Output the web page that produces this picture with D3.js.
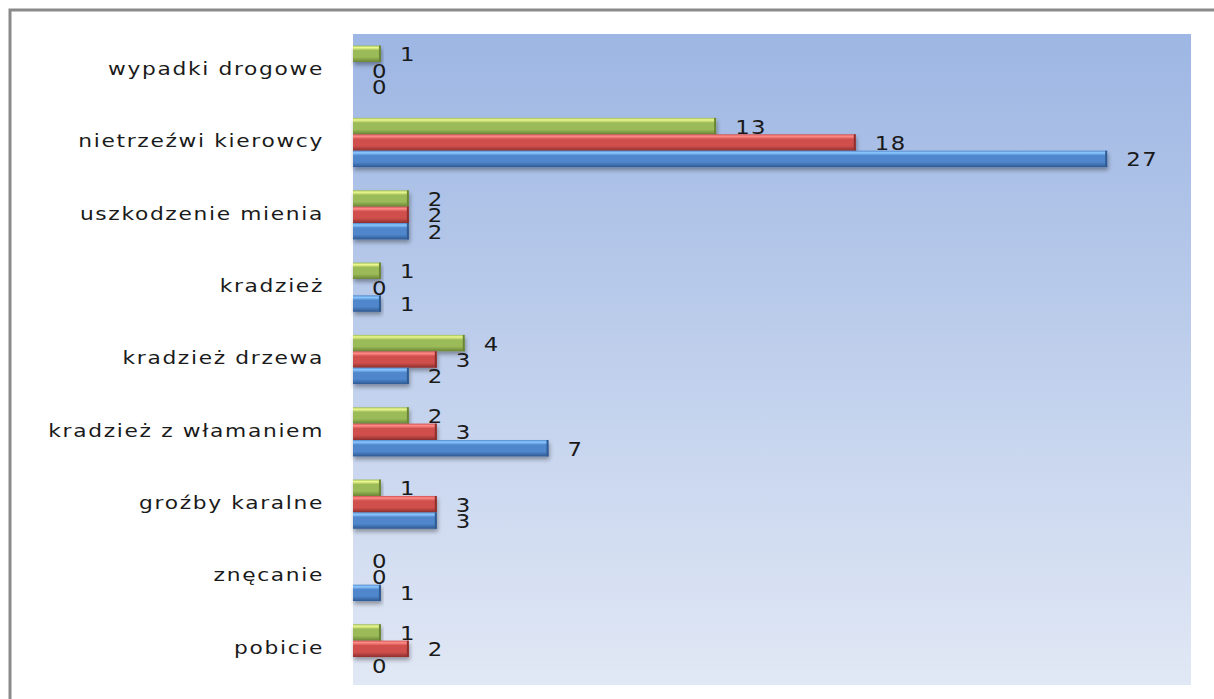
<!DOCTYPE html>
<html>
<head>
<meta charset="utf-8">
<script src="https://cdn.jsdelivr.net/npm/d3@7"></script>
<style>
  html, body { margin: 0; padding: 0; background: #fff; }
  svg { display: block; }
</style>
</head>
<body>
<div id="chart"></div>
<script>
// categories listed top to bottom
const categories = [
  'wypadki drogowe',
  'nietrzeźwi kierowcy',
  'uszkodzenie mienia',
  'kradzież',
  'kradzież drzewa',
  'kradzież z włamaniem',
  'groźby karalne',
  'znęcanie',
  'pobicie'
];
// three series, drawn top (green) to bottom (blue) in each group
const seriesNames = ['seria 3', 'seria 2', 'seria 1'];
const greenValues = [1, 13, 2, 1, 4, 2, 1, 0, 1];
const redValues   = [0, 18, 2, 0, 3, 3, 3, 0, 2];
const blueValues  = [0, 27, 2, 1, 2, 7, 3, 1, 0];
const xTicks = [0, 5, 10, 15, 20, 25, 30];

const seriesValues = [greenValues, redValues, blueValues];
const seriesColors = [
  { light: '#eef98e', main: '#9bbb59', dark: '#6a8534' },
  { light: '#ff8c8a', main: '#d0504d', dark: '#8e2f2d' },
  { light: '#8cc8ff', main: '#4f86cc', dark: '#2f5a92' }
];

const W = 1214, H = 699;
const plot = { left: 353, top: 34, right: 1191, bottom: 685 };

const svg = d3.select('#chart').append('svg')
  .attr('width', W).attr('height', H);

const defs = svg.append('defs');

// ── background gradient ────────────────────────────────────────────────
const bg = defs.append('linearGradient').attr('id', 'bg')
  .attr('x1', 0).attr('y1', 0).attr('x2', 0).attr('y2', 1);
bg.append('stop').attr('offset', '0%').attr('stop-color', '#9db6e3');
bg.append('stop').attr('offset', '100%').attr('stop-color', '#e1e8f5');

// ── bar gradients (bevel look) ─────────────────────────────────────────
seriesColors.forEach((c, i) => {
  const gr = defs.append('linearGradient').attr('id', 'bar' + i)
    .attr('x1', 0).attr('y1', 0).attr('x2', 0).attr('y2', 1);
  gr.append('stop').attr('offset', '0%').attr('stop-color', c.main);
  gr.append('stop').attr('offset', '12%').attr('stop-color', c.light);
  gr.append('stop').attr('offset', '30%').attr('stop-color', c.main);
  gr.append('stop').attr('offset', '70%').attr('stop-color', c.main);
  gr.append('stop').attr('offset', '100%').attr('stop-color', c.dark);
});

const shadow = defs.append('filter').attr('id', 'shadow')
  .attr('x', '-5%').attr('y', '-20%').attr('width', '115%').attr('height', '170%');
shadow.append('feDropShadow')
  .attr('dx', 1).attr('dy', 3).attr('stdDeviation', 2)
  .attr('flood-color', '#000').attr('flood-opacity', 0.35);

// ── outer frame ────────────────────────────────────────────────────────
svg.append('rect')
  .attr('x', 10).attr('y', 10)
  .attr('width', W + 20).attr('height', H + 20)
  .attr('fill', 'none')
  .attr('stroke', '#8a8a8a')
  .attr('stroke-width', 3);

// ── plot area ──────────────────────────────────────────────────────────
svg.append('rect')
  .attr('x', plot.left).attr('y', plot.top)
  .attr('width', plot.right - plot.left)
  .attr('height', plot.bottom - plot.top)
  .attr('fill', 'url(#bg)');

// ── scales ─────────────────────────────────────────────────────────────
const xScale = d3.scaleLinear()
  .domain([xTicks[0], xTicks[xTicks.length - 1]])
  .range([plot.left, plot.right]);

const yScale = d3.scaleBand()
  .domain(categories)
  .range([plot.top, plot.bottom])
  .paddingInner(0.32)
  .paddingOuter(0.16);

const ySub = d3.scaleBand()
  .domain(d3.range(seriesNames.length))
  .range([0, yScale.bandwidth()]);

// the source picture is stretched sideways, so text is widened a bit
const stretch = 1.28;

// ── category labels ────────────────────────────────────────────────────
svg.append('g')
  .selectAll('text')
  .data(categories)
  .join('text')
  .attr('transform', d => `translate(324,${yScale(d) + yScale.bandwidth() / 2}) scale(${stretch},1)`)
  .attr('text-anchor', 'end')
  .attr('dominant-baseline', 'middle')
  .attr('font-family', '"DejaVu Sans", sans-serif')
  .attr('font-size', '17px')
  .attr('letter-spacing', '1.3px')
  .attr('fill', '#1a1a1a')
  .text(d => d);

// ── bars ───────────────────────────────────────────────────────────────
seriesValues.forEach((vals, si) => {
  const g = svg.append('g');
  const rows = categories.map((c, i) => ({ cat: c, v: vals[i] }));

  g.selectAll('rect.bar')
    .data(rows.filter(d => d.v > 0))
    .join('rect')
    .attr('class', 'bar')
    .attr('x', xScale(0))
    .attr('y', d => yScale(d.cat) + ySub(si))
    .attr('width', d => xScale(d.v) - xScale(0))
    .attr('height', ySub.bandwidth())
    .attr('fill', `url(#bar${si})`)
    .attr('filter', 'url(#shadow)');

  // darker right end
  g.selectAll('line.end')
    .data(rows.filter(d => d.v > 0))
    .join('line')
    .attr('class', 'end')
    .attr('x1', d => xScale(d.v) - 1).attr('x2', d => xScale(d.v) - 1)
    .attr('y1', d => yScale(d.cat) + ySub(si))
    .attr('y2', d => yScale(d.cat) + ySub(si) + ySub.bandwidth())
    .attr('stroke', seriesColors[si].dark)
    .attr('stroke-width', 2);

  // value labels
  g.selectAll('text')
    .data(rows)
    .join('text')
    .attr('transform', d => `translate(${xScale(d.v) + 19},${yScale(d.cat) + ySub(si) + ySub.bandwidth() / 2 + 2}) scale(1.2,1)`)
    .attr('dominant-baseline', 'middle')
    .attr('font-family', '"DejaVu Sans", sans-serif')
    .attr('font-size', '19px')
    .attr('letter-spacing', '1.2px')
    .attr('fill', '#1a1a1a')
    .text(d => d.v);
});
</script>
</body>
</html>
